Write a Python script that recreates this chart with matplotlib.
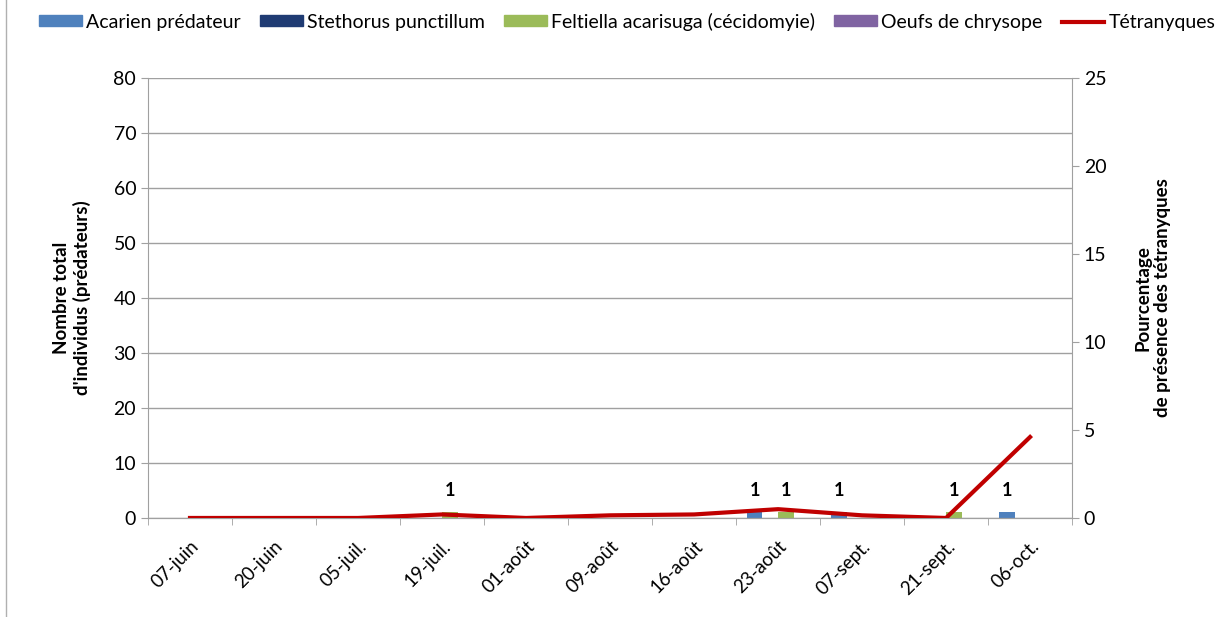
import matplotlib
matplotlib.use('Agg')
import matplotlib.pyplot as plt
from matplotlib.lines import Line2D
import numpy as np

plt.rcParams['font.family'] = ['Lato', 'DejaVu Sans']

dates = ['07-juin', '20-juin', '05-juil.', '19-juil.', '01-août', '09-août',
         '16-août', '23-août', '07-sept.', '21-sept.', '06-oct.']
acarien = [0, 0, 0, 0, 0, 0, 0, 1, 1, 0, 1]
stethorus = [0, 0, 0, 0, 0, 0, 0, 0, 0, 0, 0]
feltiella = [0, 0, 0, 1, 0, 0, 0, 1, 0, 1, 0]
oeufs = [0, 0, 0, 0, 0, 0, 0, 0, 0, 0, 0]
tetranyques = [0, 0, 0, 0.2, 0, 0.15, 0.2, 0.5, 0.15, 0, 4.6]

series = [('Acarien prédateur', acarien, '#4F81BD'),
          ('Stethorus punctillum', stethorus, '#1F3B73'),
          ('Feltiella acarisuga (cécidomyie)', feltiella, '#9BBB59'),
          ('Oeufs de chrysope', oeufs, '#8064A2')]

fig = plt.figure(figsize=(12.22, 6.17), dpi=100)
ax = fig.add_axes([0.1211, 0.1605, 0.7562, 0.7131])
ax2 = ax.twinx()

x = np.arange(len(dates))
w = 0.185
for i, (name, vals, col) in enumerate(series):
    pos = x + (i - 1.5) * w
    ax.bar(pos, vals, width=w, color=col, zorder=2)
    for p, v in zip(pos, vals):
        if v:
            ax.annotate(str(v), (p, v), xytext=(0, 10), textcoords='offset points',
                        ha='center', va='bottom', fontsize=13, fontweight='bold')

ax2.plot(x, tetranyques, color='#C00000', lw=3, zorder=3)

grid_col = '#A0A0A0'
ax.set_xlim(-0.5, len(dates) - 0.5)
ax.set_ylim(0, 80)
ax.set_yticks(range(0, 81, 10))
ax.yaxis.grid(True, color=grid_col, lw=1)
ax.set_axisbelow(True)
ax2.set_ylim(0, 25)
ax2.set_yticks(range(0, 26, 5))

ax.set_xticks(x)
ax.set_xticklabels(dates, rotation=45, ha='right', rotation_mode='anchor', fontsize=13.5)
ax.set_xticks(np.arange(-0.5, len(dates)), minor=True)
ax.tick_params(axis='x', which='major', length=0, pad=14)
ax.tick_params(axis='x', which='minor', length=5, color=grid_col)
ax.tick_params(axis='y', labelsize=14, length=5, color=grid_col)
ax2.tick_params(axis='y', labelsize=14, length=5, color=grid_col)

for a in (ax, ax2):
    a.spines['top'].set_visible(False)
    for s in ('left', 'right', 'bottom'):
        a.spines[s].set_color(grid_col)
ax.spines['right'].set_visible(False)
ax2.spines['left'].set_visible(False)

ax.set_ylabel("Nombre total\nd'individus (prédateurs)", fontsize=13.5, fontweight='bold',
              labelpad=16)
ax2.set_ylabel("Pourcentage\nde présence des tétranyques", fontsize=13.5, fontweight='bold',
               rotation=90, labelpad=20)

handles = [plt.Rectangle((0, 0), 1, 1, color=c) for _, _, c in series]
handles.append(Line2D([0], [0], color='#C00000', lw=3))
labels = [s[0] for s in series] + ['Tétranyques']
fig.legend(handles, labels, loc='upper left', bbox_to_anchor=(0.018, 1.008), ncol=5,
           frameon=False, fontsize=14, handlelength=2.2, handleheight=0.45,
           handletextpad=0.2, columnspacing=1.0)

fig.add_artist(Line2D([0.005, 0.005], [0.0, 1.0], color='#B0B0B0', lw=1))

fig.savefig('out.png', dpi=100)
